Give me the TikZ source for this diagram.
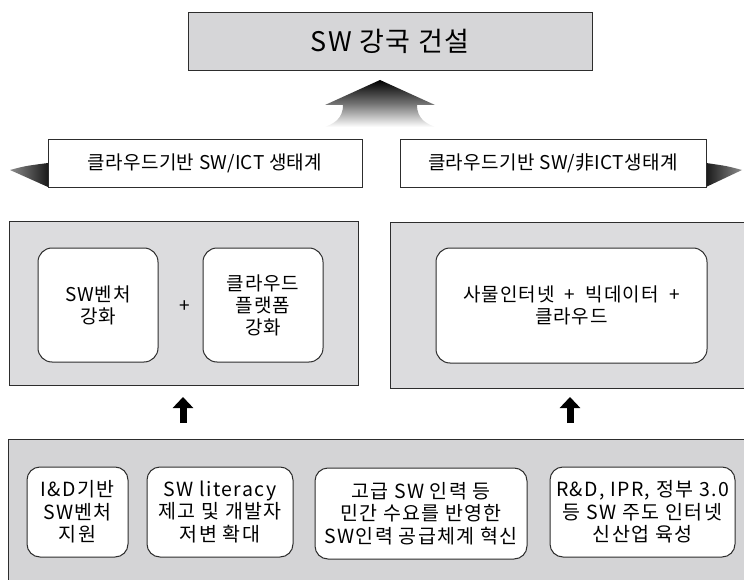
\documentclass[tikz,border=0pt]{standalone}
\usepackage{fontspec}
\setmainfont{Noto Sans CJK KR}
\usetikzlibrary{arrows.meta}
\definecolor{panelgray}{RGB}{220,220,222}
\definecolor{botgray}{RGB}{212,212,214}
\definecolor{topgray}{RGB}{214,214,216}
\definecolor{edge}{RGB}{45,45,45}
\begin{document}
\begin{tikzpicture}[x=1pt,y=-1pt,
  panel/.style={draw=edge, line width=0.9pt, fill=panelgray, inner sep=0pt, outer sep=0pt, anchor=north west},
  banner/.style={draw=edge, line width=0.9pt, fill=white, inner sep=0pt, outer sep=0pt, anchor=north west, font=\fontsize{19}{22}\selectfont\addfontfeature{LetterSpace=2}},
  ibox/.style={draw=edge, line width=1pt, fill=white, rounded corners=14pt, inner sep=0pt, outer sep=0pt, anchor=north west, align=center, font=\fontsize{19}{22}\selectfont\addfontfeature{LetterSpace=5}},
  bbox/.style={ibox, rounded corners=13pt, font=\fontsize{19.5}{22.5}\selectfont\addfontfeature{LetterSpace=7}},
  smallarrow/.style={line width=7pt, -{Triangle[width=20pt,length=11pt]}, black}
]
\useasboundingbox (0,0) rectangle (744,580);
% top box
\node[panel, fill=topgray, minimum width=404pt, minimum height=58pt, font=\fontsize{27}{30}\selectfont\addfontfeature{LetterSpace=6}] (top) at (188,12) {SW 강국 건설};
% big arrow
\shade[top color=black, bottom color=white, middle color=black!55]
  (380,80) -- (435,105) -- (417,105) .. controls (417,120) and (428,124) .. (435,127)
  -- (325,127) .. controls (332,124) and (343,120) .. (343,105) -- (325,105) -- cycle;
% banners with wedges
\shade[left color=black!45, right color=black!90] (10,170) .. controls (25,166) .. (48,163) -- (48,187) -- cycle;
\shade[right color=black!45, left color=black!90] (742,170) .. controls (727,166) .. (706,163) -- (706,187) -- cycle;
\node[banner, minimum width=314pt, minimum height=48pt] (ban1) at (48,139) {클라우드기반 SW/ICT 생태계};
\node[banner, minimum width=306pt, minimum height=48pt] (ban2) at (400,139) {클라우드기반 SW/非ICT생태계};
% middle panels
\node[panel, minimum width=349pt, minimum height=164pt] (lp) at (9,221) {};
\node[panel, minimum width=360pt, minimum height=166pt] (rp) at (390,222) {};
\node[ibox, minimum width=120pt, minimum height=114pt] (sw) at (38,248) {SW벤처\\강화};
\node[ibox, minimum width=120pt, minimum height=114pt] (cl) at (203,248) {클라우드\\플랫폼\\강화};
\node[font=\fontsize{19}{22}\selectfont] (plus) at (185,307) {+};
\node[ibox, minimum width=271pt, minimum height=115pt] (iot) at (436,248) {사물인터넷 \ + \ 빅데이터 \ +\\클라우드};
% small arrows
\coordinate (a1s) at (183,423); \coordinate (a1e) at (183,397);
\coordinate (a2s) at (570,423); \coordinate (a2e) at (570,397);
\draw[smallarrow] (a1s) -- (a1e);
\draw[smallarrow] (a2s) -- (a2e);
% bottom panel
\node[panel, fill=botgray, minimum width=745pt, minimum height=150pt] (bp) at (8,439) {};
\node[bbox, minimum width=101pt, minimum height=90pt] (b1) at (27,467) {I\&D기반\\SW벤처\\지원};
\node[bbox, minimum width=146pt, minimum height=90pt] (b2) at (147,467) {SW literacy\\제고 및 개발자\\저변 확대};
\node[bbox, minimum width=212pt, minimum height=91pt] (b3) at (315,468) {고급 SW 인력 등\\민간 수요를 반영한\\SW인력 공급체계 혁신};
\node[bbox, minimum width=185pt, minimum height=90pt] (b4) at (550,467) {R\&D, IPR, 정부 3.0\\등 SW 주도 인터넷\\신산업 육성};
\end{tikzpicture}
\end{document}
